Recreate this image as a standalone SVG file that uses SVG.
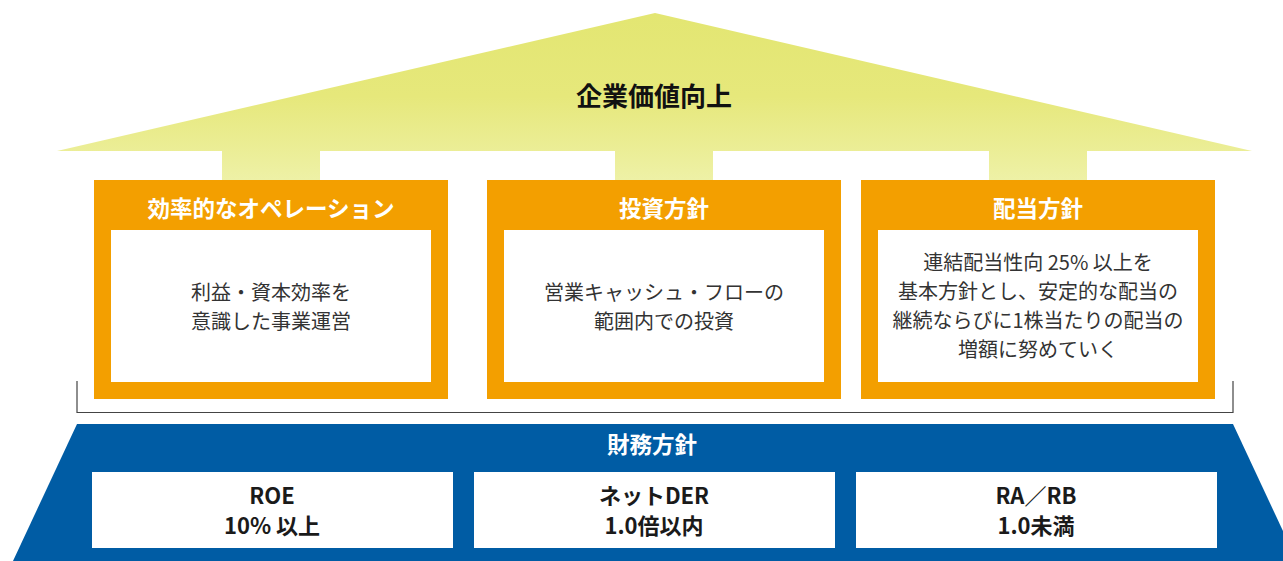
<svg xmlns="http://www.w3.org/2000/svg" width="1283" height="561" viewBox="0 0 1283 561">
<style>
text{font-family:"Noto Sans CJK JP","Noto Sans",sans-serif;text-anchor:middle}
.hd{fill:#fff;font-weight:bold;font-size:22.5px}
.bd{fill:#333;font-size:20px}
.fin{fill:#1a1a1a;font-weight:bold;font-size:22px}
.org{fill:#F39F00}
.wht{fill:#fff}
.pil{fill:url(#pg)}
</style>
<defs>
<linearGradient id="rg" gradientUnits="userSpaceOnUse" x1="0" y1="13" x2="0" y2="180">
<stop offset="0" stop-color="#e3e672"/>
<stop offset="0.5" stop-color="#e6e87b"/>
<stop offset="1" stop-color="#eef1a6"/>
</linearGradient>
<linearGradient id="pg" gradientUnits="userSpaceOnUse" x1="0" y1="13" x2="0" y2="180">
<stop offset="0" stop-color="#e3e672"/>
<stop offset="0.5" stop-color="#e6e87b"/>
<stop offset="1" stop-color="#eef1a6"/>
</linearGradient>
</defs>

<g id="roof">
<polygon points="57,151 655,13 1252,151" fill="url(#rg)"/>
<text x="654" y="106" style="font-size:26px;font-weight:bold;fill:#111">企業価値向上</text>
</g>

<g id="connectors">
<rect class="pil" x="222" y="150" width="98" height="31"/>
<rect class="pil" x="615" y="150" width="98" height="31"/>
<rect class="pil" x="989" y="150" width="98" height="31"/>
<polyline points="77,381 77,412.5 1233,412.5 1233,381" fill="none" stroke="#444" stroke-width="1.2"/>
</g>

<g id="operation">
<rect class="org" x="94" y="180" width="354" height="219"/>
<rect class="wht" x="111" y="230" width="320" height="152"/>
<text class="hd" x="271" y="217">効率的なオペレーション</text>
<text class="bd" x="271" y="300">利益・資本効率を</text>
<text class="bd" x="271" y="329">意識した事業運営</text>
</g>

<g id="investment">
<rect class="org" x="487" y="180" width="354" height="219"/>
<rect class="wht" x="504" y="230" width="320" height="152"/>
<text class="hd" x="664" y="217">投資方針</text>
<text class="bd" x="664" y="300">営業キャッシュ・フローの</text>
<text class="bd" x="664" y="329">範囲内での投資</text>
</g>

<g id="dividend">
<rect class="org" x="861" y="180" width="354" height="219"/>
<rect class="wht" x="878" y="230" width="320" height="152"/>
<text class="hd" x="1038" y="217">配当方針</text>
<text class="bd" x="1038" y="270">連結配当性向 25% 以上を</text>
<text class="bd" x="1038" y="299">基本方針とし、安定的な配当の</text>
<text class="bd" x="1038" y="328">継続ならびに1株当たりの配当の</text>
<text class="bd" x="1038" y="357">増額に努めていく</text>
</g>

<g id="finance">
<polygon points="77,424 1233,424 1297,561 13,561" fill="#005CA4"/>
<text class="hd" x="652" y="453">財務方針</text>
</g>

<g id="roe">
<rect class="wht" x="92" y="472" width="361" height="76"/>
<text class="fin" x="272" y="503.5">ROE</text>
<text class="fin" x="272" y="534">10% 以上</text>
</g>

<g id="der">
<rect class="wht" x="474" y="472" width="361" height="76"/>
<text class="fin" x="654" y="503.5">ネットDER</text>
<text class="fin" x="654" y="534">1.0倍以内</text>
</g>

<g id="rarb">
<rect class="wht" x="856" y="472" width="361" height="76"/>
<text class="fin" x="1036" y="503.5">RA／RB</text>
<text class="fin" x="1036" y="534">1.0未満</text>
</g>
</svg>
